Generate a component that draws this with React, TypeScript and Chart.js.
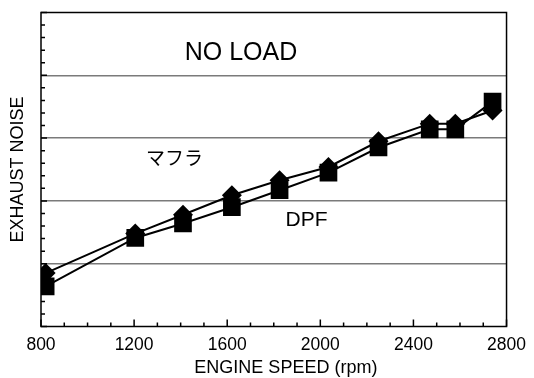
import React, { useEffect, useRef } from "react";
import { Chart, registerables } from "chart.js";

Chart.register(...registerables);

const mufflerRpm = [820, 1205, 1410, 1620, 1825, 2035, 2250, 2470, 2580, 2740];
const mufflerNoise = [0.85, 1.48, 1.78, 2.09, 2.33, 2.54, 2.95, 3.23, 3.23, 3.44];
const dpfRpm = [820, 1205, 1410, 1620, 1825, 2035, 2250, 2470, 2580, 2740];
const dpfNoise = [0.64, 1.41, 1.64, 1.9, 2.17, 2.45, 2.85, 3.14, 3.14, 3.58];
const xTickLabels = ["800", "1200", "1600", "2000", "2400", "2800"];
const xTitle = "ENGINE SPEED (rpm)";
const yTitle = "EXHAUST NOISE";
const FONT = "'Liberation Sans', Arial, Helvetica, sans-serif";

const frameAndTicks = {
  id: "frameAndTicks",
  afterDraw(chart: any) {
    const { ctx, chartArea: a, scales } = chart;
    const x = scales.x;
    const y = scales.y;
    ctx.save();
    ctx.strokeStyle = "#000";
    ctx.lineWidth = 1.5;
    ctx.strokeRect(a.left, a.top, a.right - a.left, a.bottom - a.top);
    ctx.beginPath();
    for (let v = 800; v <= 2800; v += 100) {
      const px = x.getPixelForValue(v);
      const len = v % 400 === 0 ? 7 : 4;
      ctx.moveTo(px, a.bottom);
      ctx.lineTo(px, a.bottom - len);
    }
    for (let i = 0; i <= 25; i++) {
      const py = y.getPixelForValue(i / 5);
      const len = i % 5 === 0 ? 6 : 4;
      ctx.moveTo(a.left, py);
      ctx.lineTo(a.left + len, py);
    }
    ctx.stroke();
    ctx.fillStyle = "#000";
    ctx.textAlign = "center";
    ctx.textBaseline = "middle";
    // annotations
    ctx.font = `25px ${FONT}`;
    ctx.fillText("NO LOAD", x.getPixelForValue(1659), y.getPixelForValue(4.35));
    ctx.font = `19px 'Noto Sans CJK JP', ${FONT}`;
    ctx.fillText("マフラ", x.getPixelForValue(1373), y.getPixelForValue(2.69));
    ctx.font = `21px ${FONT}`;
    ctx.fillText("DPF", x.getPixelForValue(1941), y.getPixelForValue(1.7));
    // axis titles
    ctx.font = `18px ${FONT}`;
    ctx.fillText(xTitle, x.getPixelForValue(1852), 368);
    ctx.translate(18, (a.top + a.bottom) / 2);
    ctx.rotate(-Math.PI / 2);
    ctx.fillText(yTitle, 0, 0);
    ctx.restore();
  },
};

export default function App() {
  const ref = useRef<HTMLCanvasElement>(null);
  useEffect(() => {
    document.body.style.margin = "0";
    const chart = new Chart(ref.current!, {
      type: "line",
      data: {
        datasets: [
          {
            label: "DPF",
            data: dpfRpm.map((r, i) => ({ x: r, y: dpfNoise[i] })),
            borderColor: "#000",
            backgroundColor: "#000",
            borderWidth: 2,
            pointStyle: "rect",
            pointRadius: 12.5,
            pointBorderWidth: 0,
          },
          {
            label: "マフラ",
            data: mufflerRpm.map((r, i) => ({ x: r, y: mufflerNoise[i] })),
            borderColor: "#000",
            backgroundColor: "#000",
            borderWidth: 2,
            pointStyle: "rectRot",
            pointRadius: 10,
            pointBorderWidth: 0,
          },
        ],
      },
      options: {
        animation: false,
        responsive: false,
        maintainAspectRatio: false,
        layout: { padding: { top: 10, right: 25, left: 0, bottom: 0 } },
        plugins: { legend: { display: false }, tooltip: { enabled: false } },
        scales: {
          x: {
            type: "linear",
            min: 800,
            max: 2800,
            afterBuildTicks: (s: any) => {
              s.ticks = xTickLabels.map((t) => ({ value: Number(t) }));
            },
            ticks: {
              color: "#000",
              font: { family: FONT, size: 17.5 },
              padding: 8,
              maxRotation: 0,
              autoSkip: false,
              callback: (v: any) => String(v),
            },
            grid: { display: false, drawTicks: false },
            border: { display: false },
            afterFit: (s: any) => {
              s.height = 378 - 326.5;
            },
          },
          y: {
            type: "linear",
            min: 0,
            max: 5,
            ticks: { display: false, stepSize: 1 },
            grid: {
              drawTicks: false,
              color: (c: any) =>
                c.tick && c.tick.value > 0 && c.tick.value < 5 ? "#7a7a7a" : "rgba(0,0,0,0)",
              lineWidth: 1.5,
            },
            border: { display: false },
            afterFit: (s: any) => {
              s.width = 41;
            },
          },
        },
      },
      plugins: [frameAndTicks],
    });
    return () => chart.destroy();
  }, []);
  return (
    <div style={{ width: 534, height: 378 }}>
      <canvas ref={ref} width={534} height={378} style={{ width: 534, height: 378, display: "block" }} />
    </div>
  );
}
